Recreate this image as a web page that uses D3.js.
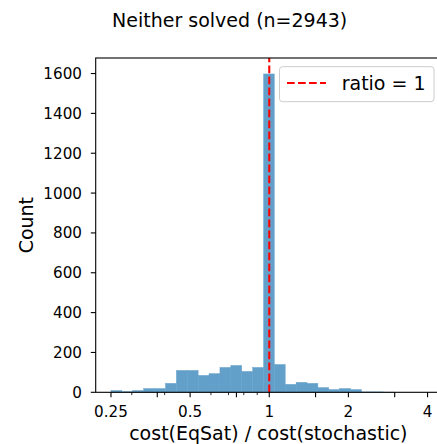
<!DOCTYPE html>
<html>
<head>
<meta charset="utf-8">
<script src="https://cdn.jsdelivr.net/npm/d3@7"></script>
<style>
  html, body { margin: 0; padding: 0; background: #fff; }
  svg { display: block; font-family: "DejaVu Sans", sans-serif; }
</style>
</head>
<body>
<svg id="chart" width="437" height="444"></svg>
<script>
// ---- data ----
const binEdges = [0.25, 0.2750, 0.3026, 0.3329, 0.3662, 0.4029, 0.4432, 0.4876, 0.5364,
  0.5901, 0.6492, 0.7143, 0.7858, 0.8645, 0.9510, 1.0454, 1.1500, 1.2651, 1.3917,
  1.5311, 1.6843, 1.8530, 2.0381, 2.2422, 2.4668, 2.7132, 2.9849];
const counts = [9, 4, 9, 19, 19, 45, 110, 110, 85, 94, 125, 135, 105, 125, 1598,
  140, 40, 50, 45, 24, 14, 19, 14, 2, 2, 1];
const xTickLabels = [0.25, 0.5, 1, 2, 4];
const xTicksUnlabeled = [0.375, 0.75, 1.5, 3];
const xMinorTicks = [0.3, 0.4, 0.6, 0.7, 0.8, 0.9];
const yTicks = [0, 200, 400, 600, 800, 1000, 1200, 1400, 1600];
const xDomain = [0.2187, 4.5];
const yMax = 1678;
const refRatio = 1;
const titleText = "Neither solved (n=2943)";
const xLabel = "cost(EqSat) / cost(stochastic)";
const yLabel = "Count";
const legendLabel = "ratio = 1";

// ---- layout ----
const L = 95.7, R = 441, T = 58, B = 392.3;
const svg = d3.select("#chart");

const x = d3.scaleLog().base(2).domain(xDomain).range([L, R]);
const y = d3.scaleLinear().domain([0, yMax]).range([B, T]);

const bins = counts.map((c, i) => ({ x0: binEdges[i], x1: binEdges[i + 1], c }));

// bars (C0 at alpha 0.7 over white)
svg.append("g").selectAll("rect").data(bins).join("rect")
  .attr("x", d => x(d.x0))
  .attr("width", d => x(d.x1) - x(d.x0))
  .attr("y", d => y(d.c))
  .attr("height", d => y(0) - y(d.c))
  .attr("fill", "#62a0ca")
  .attr("stroke", "#62a0ca")
  .attr("stroke-width", 0.4);

// reference line
svg.append("line")
  .attr("x1", x(refRatio)).attr("x2", x(refRatio))
  .attr("y1", B).attr("y2", T)
  .attr("stroke", "red").attr("stroke-width", 2.08)
  .attr("stroke-dasharray", "7.7,3.3");

// spines
const sp = svg.append("g").attr("stroke", "#000").attr("stroke-width", 1.1).attr("fill", "none");
sp.append("rect").attr("x", L).attr("y", T).attr("width", R - L).attr("height", B - T);

// x axis ticks
const xa = svg.append("g");
xa.selectAll("line.maj").data(xTickLabels.concat(xTicksUnlabeled)).join("line")
  .attr("x1", d => x(d)).attr("x2", d => x(d))
  .attr("y1", B).attr("y2", B + 4.9)
  .attr("stroke", "#000").attr("stroke-width", 1.1);
xa.selectAll("line.min").data(xMinorTicks).join("line")
  .attr("x1", d => x(d)).attr("x2", d => x(d))
  .attr("y1", B).attr("y2", B + 2.8)
  .attr("stroke", "#000").attr("stroke-width", 0.83);
xa.selectAll("text").data(xTickLabels).join("text")
  .attr("x", d => x(d)).attr("y", 416.5)
  .attr("text-anchor", "middle")
  .attr("font-size", 15.2).attr("fill", "#000")
  .text(d => String(d));

// y axis ticks
const ya = svg.append("g");
ya.selectAll("line").data(yTicks).join("line")
  .attr("x1", L - 4.9).attr("x2", L)
  .attr("y1", d => y(d)).attr("y2", d => y(d))
  .attr("stroke", "#000").attr("stroke-width", 1.1);
ya.selectAll("text").data(yTicks).join("text")
  .attr("x", 82).attr("y", d => y(d))
  .attr("dy", "0.36em")
  .attr("text-anchor", "end")
  .attr("font-size", 15.2).attr("fill", "#000")
  .text(d => String(d));

// labels
svg.append("text")
  .attr("x", (L + R) / 2).attr("y", 440)
  .attr("text-anchor", "middle").attr("font-size", 19).attr("fill", "#000")
  .text(xLabel);
svg.append("text")
  .attr("transform", `translate(33,${(T + B) / 2}) rotate(-90)`)
  .attr("text-anchor", "middle").attr("font-size", 19).attr("fill", "#000")
  .text(yLabel);
svg.append("text")
  .attr("x", 229.7).attr("y", 26.5)
  .attr("text-anchor", "middle").attr("font-size", 19).attr("fill", "#000")
  .text(titleText);

// legend
const lg = svg.append("g");
lg.append("rect")
  .attr("x", 279.5).attr("y", 66.7).attr("width", 154.5).attr("height", 35)
  .attr("rx", 3).attr("ry", 3)
  .attr("fill", "#fff").attr("fill-opacity", 0.8)
  .attr("stroke", "#cccccc").attr("stroke-width", 1);
lg.append("line")
  .attr("x1", 287).attr("x2", 326)
  .attr("y1", 83).attr("y2", 83)
  .attr("stroke", "red").attr("stroke-width", 2.08)
  .attr("stroke-dasharray", "7.7,3.3");
lg.append("text")
  .attr("x", 341.7).attr("y", 83)
  .attr("dy", "0.36em")
  .attr("font-size", 19).attr("fill", "#000")
  .text(legendLabel);
</script>
</body>
</html>
